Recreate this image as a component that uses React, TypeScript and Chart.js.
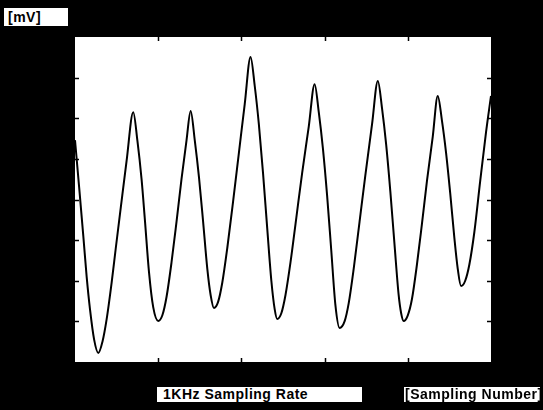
import React, { useEffect, useRef } from "react";
import { Chart, registerables } from "chart.js";

Chart.register(...registerables);

// Sampling number (x) and amplitude in mV (y)
const sampleNumbers = [
  0, 5, 10, 14, 18, 23, 28, 33, 38, 44, 49, 55, 62, 70,
  75, 80, 84, 89, 94, 100, 105, 110, 116, 122, 128, 134, 139,
  144, 149, 154, 159, 163, 167, 172, 177, 183, 190, 197, 204, 211,
  216, 221, 226, 231, 236, 240, 243, 248, 253, 259, 266, 273, 281, 288,
  293, 298, 303, 308, 313, 318, 324, 329, 335, 342, 349, 357, 364,
  369, 374, 379, 384, 389, 392, 395, 400, 405, 411, 417, 423, 430, 436,
  441, 446, 451, 456, 460, 464, 469, 474, 480, 487, 494, 500,
];
const millivolts = [
  546, 430, 310, 210, 130, 55, 22, 50, 105, 195, 280, 380, 495, 615,
  545, 450, 350, 220, 135, 101, 115, 160, 245, 345, 450, 545, 618,
  545, 455, 345, 230, 165, 133, 148, 195, 280, 395, 515, 635, 751,
  680, 585, 465, 330, 200, 130, 106, 120, 165, 245, 355, 465, 580, 684,
  615, 525, 410, 275, 140, 84, 100, 145, 230, 345, 460, 585, 692,
  625, 535, 420, 290, 165, 120, 101, 115, 155, 240, 340, 445, 555, 655,
  595, 515, 415, 305, 230, 187, 200, 240, 320, 445, 565, 655,
];
const xTickValues = [100, 200, 300, 400];
const yTickValues = [100, 200, 300, 400, 500, 600, 700];
const xRange = [0, 500];
const yRange = [0, 800];

const yUnitLabel = "[mV]";
const rateLabel = "1KHz Sampling Rate";
const xAxisLabel = "[Sampling Number]";

const scopePlugin = {
  id: "scopeFrame",
  beforeDraw(chart: any) {
    const { ctx, chartArea: a } = chart;
    ctx.save();
    ctx.fillStyle = "#000";
    ctx.fillRect(0, 0, chart.width, chart.height);
    ctx.fillStyle = "#fff";
    ctx.fillRect(a.left, a.top, a.right - a.left, a.bottom - a.top);
    ctx.restore();
  },
  afterDraw(chart: any) {
    const { ctx, chartArea: a, scales } = chart;
    const len = 4;
    ctx.save();
    ctx.strokeStyle = "#000";
    ctx.lineWidth = 1.5;
    ctx.beginPath();
    for (const v of yTickValues) {
      const y = Math.round(scales.y.getPixelForValue(v)) + 0.5;
      ctx.moveTo(a.left, y);
      ctx.lineTo(a.left + len, y);
      ctx.moveTo(a.right, y);
      ctx.lineTo(a.right - len, y);
    }
    for (const v of xTickValues) {
      const x = Math.round(scales.x.getPixelForValue(v)) + 0.5;
      ctx.moveTo(x, a.bottom);
      ctx.lineTo(x, a.bottom - len);
      ctx.moveTo(x, a.top);
      ctx.lineTo(x, a.top + len);
    }
    ctx.stroke();
    ctx.restore();
  },
};

const labelStyle = (left: number, top: number, width: number, height: number, pad: number): React.CSSProperties => ({
  position: "absolute",
  left,
  top,
  width,
  height,
  background: "#fff",
  color: "#000",
  font: 'bold 14px "Liberation Sans", Arial, sans-serif',
  letterSpacing: "0.5px",
  lineHeight: height + "px",
  paddingLeft: pad,
  boxSizing: "border-box",
  whiteSpace: "nowrap",
  overflow: "hidden",
});

export default function App() {
  const canvasRef = useRef<HTMLCanvasElement | null>(null);

  useEffect(() => {
    const canvas = canvasRef.current;
    if (!canvas) return;
    const points = sampleNumbers.map((x, i) => ({ x, y: millivolts[i] }));
    const chart = new Chart(canvas, {
      type: "line",
      data: {
        datasets: [
          {
            data: points,
            borderColor: "#000",
            borderWidth: 2,
            pointRadius: 0,
            fill: false,
            cubicInterpolationMode: "monotone",
          },
        ],
      },
      options: {
        responsive: false,
        animation: false,
        layout: { padding: { left: 75, top: 37, right: 52, bottom: 48 } },
        plugins: { legend: { display: false }, tooltip: { enabled: false } },
        scales: {
          x: { type: "linear", min: xRange[0], max: xRange[1], display: false },
          y: { type: "linear", min: yRange[0], max: yRange[1], display: false },
        },
      },
      plugins: [scopePlugin],
    } as any);
    return () => chart.destroy();
  }, []);

  return (
    <div style={{ position: "fixed", left: 0, top: 0, width: 543, height: 410, background: "#000" }}>
      <canvas ref={canvasRef} width={543} height={410} style={{ display: "block" }} />
      <div style={labelStyle(4, 8, 64, 18, 4)}>{yUnitLabel}</div>
      <div style={labelStyle(157, 387, 205, 15, 6)}>{rateLabel}</div>
      <div style={labelStyle(404, 387, 136, 15, 1)}>{xAxisLabel}</div>
    </div>
  );
}
